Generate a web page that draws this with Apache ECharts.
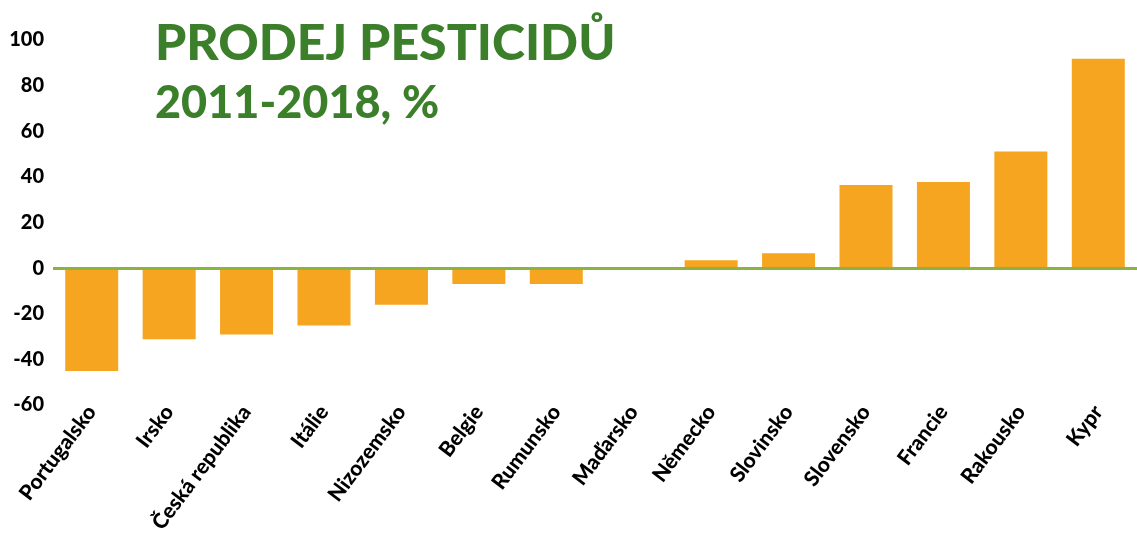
<!DOCTYPE html>
<html>
<head>
<meta charset="utf-8">
<script src="https://cdn.jsdelivr.net/npm/echarts@6/dist/echarts.min.js"></script>
<style>
html,body{margin:0;padding:0;background:#fff;}
#c{width:1137px;height:549px;}
</style>
</head>
<body>
<div id="c"></div>
<script>
const categories = ["Portugalsko","Irsko","Česká republika","Itálie","Nizozemsko","Belgie","Rumunsko","Maďarsko","Německo","Slovinsko","Slovensko","Francie","Rakousko","Kypr"];
const values = [-45.1,-31.2,-29.1,-25.1,-16.0,-7.0,-7.0,0,3.5,6.5,36.4,37.7,51.1,91.8];
const titleLines = ["PRODEJ PESTICIDŮ","2011-2018, %"];
const yTicks = {min:-60, max:100, interval:20};

const FONT = "Lato";
const chart = echarts.init(document.getElementById('c'), null, {renderer:'canvas'});
chart.setOption({
  animation:false,
  backgroundColor:'#ffffff',
  title:{
    text: '{a|' + titleLines[0] + '}\n{b|' + titleLines[1] + '}',
    left:150, top:9,
    textStyle:{
      rich:{
        a:{fontFamily:FONT, fontWeight:900, fontSize:50, lineHeight:60, color:'#3B7F2B'},
        b:{fontFamily:FONT, fontWeight:900, fontSize:45, lineHeight:58, color:'#3B7F2B'}
      }
    }
  },
  grid:{left:53, right:0, top:40, bottom:144, containLabel:false},
  xAxis:{
    type:'category',
    data:categories,
    axisLine:{show:false, onZero:false},
    axisTick:{show:false},
    axisLabel:{rotate:53, interval:0, margin:3, fontFamily:FONT, fontWeight:900, fontSize:21, color:'#000'}
  },
  yAxis:{
    type:'value',
    min:yTicks.min, max:yTicks.max, interval:yTicks.interval,
    axisLine:{show:false}, axisTick:{show:false},
    splitLine:{show:false},
    axisLabel:{margin:9, fontFamily:FONT, fontWeight:900, fontSize:20, color:'#000'}
  },
  series:[{
    type:'bar',
    data:values,
    barWidth:53,
    itemStyle:{color:'#F5A51F'},
    markLine:{
      silent:true, symbol:['none','none'],
      label:{show:false},
      lineStyle:{color:'#8CB23F', width:3, type:'solid'},
      data:[{yAxis:0}]
    }
  }]
});
</script>
</body>
</html>
